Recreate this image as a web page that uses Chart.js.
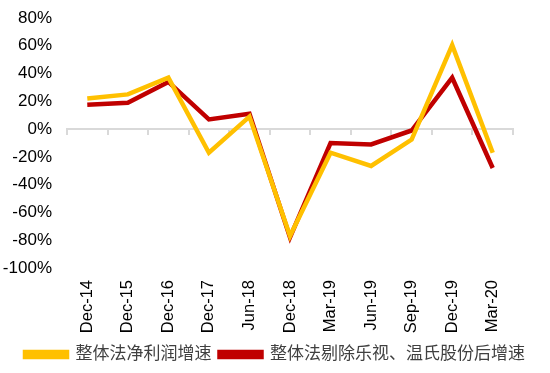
<!DOCTYPE html>
<html>
<head>
<meta charset="utf-8">
<script src="https://cdn.jsdelivr.net/npm/chart.js@4.4.0/dist/chart.umd.min.js"></script>
<style>
    html, body { margin: 0; padding: 0; background: #fff; }
    #wrap { width: 550px; height: 373px; }
</style>
</head>
<body>
<div id="wrap"><canvas id="myChart"></canvas></div>
<script>
var labels = ["Dec-14", "Dec-15", "Dec-16", "Dec-17", "Jun-18", "Dec-18", "Mar-19", "Jun-19", "Sep-19", "Dec-19", "Mar-20"];
var netProfit = [22, 25, 37, -17, 9, -77, -17, -26.5, -7.5, 60.5, -17];
var netProfitEx = [17.5, 19, 34, 7, 11, -78, -10, -11, -1, 37, -28];
var yTicks = [-100, -80, -60, -40, -20, 0, 20, 40, 60, 80];

var latin = "'Liberation Sans', Arial, sans-serif";
var cjk = "'Liberation Sans', 'Noto Sans CJK SC', sans-serif";

Chart.defaults.animation = false;
Chart.defaults.font.family = latin;

var ctx = document.getElementById("myChart").getContext("2d");
new Chart(ctx, {
    type: "line",
    data: {
        labels: labels,
        datasets: [{
            label: "整体法净利润增速",
            data: netProfit,
            borderColor: "#FFC000",
            backgroundColor: "#FFC000",
            borderWidth: 4.5,
            pointRadius: 0,
            tension: 0,
        }, {
            label: "整体法剔除乐视、温氏股份后增速",
            data: netProfitEx,
            borderColor: "#C00000",
            backgroundColor: "#C00000",
            borderWidth: 4.5,
            pointRadius: 0,
            tension: 0,
        }],
    },
    options: {
        responsive: true,
        maintainAspectRatio: false,
        layout: { padding: 0 },
        plugins: {
            tooltip: { enabled: false },
            legend: {
                position: "bottom",
                labels: {
                    boxWidth: 42,
                    boxHeight: 5,
                    color: "#404040",
                    padding: 8,
                    font: { family: cjk, size: 17 },
                },
            },
        },
        scales: {
            x: {
                offset: true,
                grid: { display: false, drawTicks: false },
                border: { display: false },
                ticks: {
                    color: "#000",
                    minRotation: 90,
                    maxRotation: 90,
                    padding: 12,
                    autoSkip: false,
                    font: { size: 16.5 },
                },
                afterFit: (s) => {
                    s.height = 70;
                },
            },
            x2: {
                type: "category",
                position: { y: 0 },
                offset: true,
                grid: {
                    offset: true,
                    drawOnChartArea: false,
                    drawTicks: true,
                    tickLength: 5,
                    color: "#d9d9d9",
                    lineWidth: 2,
                },
                border: { color: "#d9d9d9", width: 2 },
                ticks: { display: false },
            },
            y: {
                min: -100,
                max: 80,
                afterBuildTicks: (s) => {
                    s.ticks = yTicks.map((v) => ({ value: v }));
                },
                grid: { display: false, drawTicks: false },
                border: { display: false },
                ticks: {
                    color: "#000",
                    padding: 15,
                    autoSkip: false,
                    font: { size: 17 },
                    callback: (v) => v + "%",
                },
                afterFit: (s) => {
                    s.width = 67;
                    s.paddingTop = 18;
                    s.paddingBottom = 0;
                },
            },
            yRight: {
                position: "right",
                grid: { display: false, drawTicks: false },
                border: { display: false },
                ticks: { display: false },
                afterFit: (s) => {
                    s.width = 37;
                },
            },
        },
    },
});
</script>
</body>
</html>
